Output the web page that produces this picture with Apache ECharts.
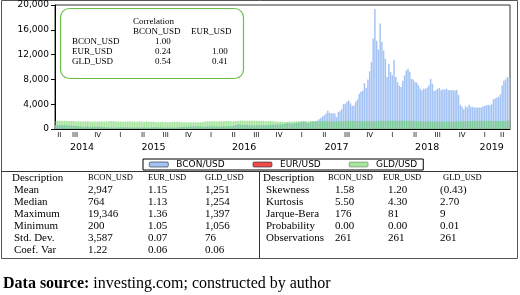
<!DOCTYPE html>
<html>
<head>
<meta charset="utf-8">
<script src="https://cdn.jsdelivr.net/npm/echarts@6/dist/echarts.min.js"></script>
<style>
  html, body { margin: 0; padding: 0; background: #fff; }
  #chart { width: 520px; height: 295px; }
</style>
</head>
<body>
<div id="chart"></div>
<script>
// weekly observations, first week below
const startDate = '2014-06-01';

// BCON/USD weekly
const bconUsd = [
  590, 600, 640, 635, 620, 625, 595, 590, 570, 490, 510, 480, 480, 475, 400, 375, 320, 390, 385, 355, 325, 365, 385, 370, 375, 375, 350, 325, 315, 265, 270,
  210, 250, 225, 220, 235, 245, 260, 275, 285, 265, 245, 260, 235, 225, 220, 240, 240, 235, 240, 230, 225, 235, 245, 250, 270, 310, 275, 290, 280, 265, 255, 225, 230, 240, 230, 230, 235, 240, 245, 270, 285, 325, 375, 320, 325, 360, 390, 435, 440, 420, 430, 450,
  380, 400, 375, 375, 400, 435, 435, 400, 415, 410, 415, 420, 420, 430, 460, 450, 455, 455, 445, 530, 575, 685, 765, 630, 660, 650, 680, 655, 625, 590, 570, 580, 575, 610, 605, 610, 605, 610, 615, 640, 655, 700, 710, 705, 730, 730, 765, 775, 790, 895, 1015, 910,
  820, 920, 920, 1020, 1000, 1050, 1180, 1270, 1230, 970, 970, 1100, 1180, 1180, 1250, 1350, 1590, 1780, 2050, 2200, 2520, 2950, 2600, 2500, 2550, 2500, 1930, 2750, 2870, 3230, 4060, 4090, 4380, 4600, 4120, 3700, 3780, 4400, 4800, 5700, 6000, 6150, 7400, 6600, 8000, 9300, 10770, 14600, 19346, 14240, 12800, 17000, 14080,
  12640, 11300, 8400, 10500, 9200, 8640, 11150, 8370, 7570, 7000, 6770, 7800, 8640, 9440, 9700, 9200, 8100, 8000, 7570, 7500, 7040, 6500, 6240, 6500, 6500, 6700, 7040, 8100, 7300, 6130, 6300, 6500, 6600, 6240, 6400, 6350, 6500, 6300, 6250, 6300, 6250, 6200, 6300, 5500, 3900, 3570, 3200, 3680, 3470, 3900, 3570, 3570,
  3470, 3470, 3470, 3450, 3470, 3680, 3700, 3840, 3900, 3840, 4000, 4800, 4900, 5100, 5200, 5600, 7000, 7800, 8000, 8370, 8300
];

// EUR/USD weekly
const eurUsd = [
  1.36, 1.36, 1.36, 1.36, 1.35, 1.35, 1.34, 1.34, 1.34, 1.33, 1.32, 1.31, 1.29, 1.29, 1.28, 1.27, 1.27, 1.27, 1.27, 1.25, 1.25, 1.25, 1.25, 1.25, 1.24, 1.23, 1.23, 1.22, 1.21, 1.19, 1.18,
  1.16, 1.13, 1.13, 1.13, 1.14, 1.14, 1.12, 1.08, 1.05, 1.08, 1.09, 1.10, 1.06, 1.08, 1.09, 1.12, 1.14, 1.12, 1.10, 1.11, 1.12, 1.13, 1.12, 1.11, 1.10, 1.09, 1.10, 1.10, 1.10, 1.10, 1.14, 1.13, 1.12, 1.12, 1.13, 1.12, 1.12, 1.13, 1.14, 1.10, 1.10, 1.07, 1.07, 1.06, 1.06, 1.09, 1.10, 1.09, 1.10, 1.09, 1.09, 1.09,
  1.09, 1.08, 1.09, 1.12, 1.13, 1.11, 1.10, 1.10, 1.11, 1.12, 1.12, 1.14, 1.14, 1.13, 1.13, 1.14, 1.14, 1.14, 1.12, 1.12, 1.12, 1.13, 1.13, 1.11, 1.14, 1.11, 1.10, 1.10, 1.12, 1.12, 1.13, 1.12, 1.13, 1.12, 1.12, 1.12, 1.12, 1.10, 1.10, 1.09, 1.09, 1.10, 1.10, 1.08, 1.07, 1.06, 1.06, 1.06, 1.05, 1.05, 1.05, 1.06,
  1.06, 1.07, 1.08, 1.08, 1.07, 1.06, 1.06, 1.06, 1.07, 1.08, 1.08, 1.07, 1.06, 1.06, 1.07, 1.09, 1.10, 1.09, 1.12, 1.12, 1.13, 1.12, 1.12, 1.12, 1.14, 1.14, 1.15, 1.17, 1.17, 1.18, 1.17, 1.18, 1.19, 1.19, 1.19, 1.19, 1.18, 1.17, 1.18, 1.18, 1.17, 1.17, 1.16, 1.17, 1.17, 1.19, 1.19, 1.18, 1.18, 1.19, 1.20, 1.20, 1.22,
  1.24, 1.25, 1.23, 1.23, 1.25, 1.24, 1.23, 1.23, 1.23, 1.23, 1.23, 1.23, 1.23, 1.21, 1.19, 1.19, 1.18, 1.17, 1.17, 1.18, 1.16, 1.16, 1.17, 1.17, 1.17, 1.17, 1.17, 1.17, 1.16, 1.14, 1.14, 1.16, 1.16, 1.17, 1.16, 1.17, 1.16, 1.15, 1.15, 1.15, 1.14, 1.13, 1.13, 1.14, 1.13, 1.14, 1.14, 1.14, 1.13, 1.14, 1.15, 1.14,
  1.14, 1.14, 1.13, 1.14, 1.13, 1.13, 1.13, 1.13, 1.13, 1.12, 1.13, 1.12, 1.13, 1.12, 1.12, 1.12, 1.12, 1.12, 1.12, 1.13, 1.13
];

// GLD/USD weekly
const gldUsd = [
  1275, 1317, 1320, 1337, 1310, 1307, 1293, 1305, 1310, 1295, 1280, 1268, 1250, 1227, 1215, 1215, 1192, 1222, 1238, 1230, 1170, 1168, 1187, 1196, 1183, 1205, 1222, 1196, 1195, 1205, 1222,
  1279, 1294, 1278, 1233, 1228, 1204, 1212, 1166, 1153, 1184, 1199, 1205, 1204, 1203, 1178, 1188, 1225, 1225, 1204, 1189, 1180, 1200, 1174, 1168, 1162, 1157, 1131, 1095, 1093, 1113, 1160, 1136, 1122, 1103, 1106, 1139, 1114, 1137, 1156, 1163, 1141, 1087, 1081, 1077, 1056, 1061, 1075, 1065, 1075, 1061, 1097, 1090,
  1097, 1112, 1157, 1239, 1230, 1222, 1270, 1258, 1251, 1218, 1222, 1243, 1235, 1230, 1291, 1290, 1272, 1254, 1214, 1244, 1275, 1298, 1315, 1340, 1366, 1328, 1323, 1350, 1335, 1340, 1341, 1321, 1327, 1328, 1310, 1337, 1316, 1257, 1252, 1266, 1275, 1304, 1226, 1207, 1183, 1176, 1160, 1134, 1133, 1146, 1172, 1196,
  1205, 1190, 1220, 1234, 1236, 1257, 1234, 1201, 1229, 1244, 1249, 1254, 1287, 1284, 1268, 1228, 1228, 1254, 1266, 1280, 1271, 1254, 1256, 1241, 1209, 1228, 1254, 1269, 1257, 1290, 1285, 1291, 1325, 1347, 1320, 1297, 1280, 1274, 1304, 1280, 1267, 1269, 1275, 1294, 1287, 1280, 1248, 1256, 1265, 1279, 1303, 1334, 1331,
  1348, 1333, 1315, 1347, 1329, 1322, 1323, 1313, 1347, 1325, 1333, 1346, 1337, 1323, 1315, 1318, 1291, 1302, 1298, 1303, 1279, 1270, 1254, 1241, 1241, 1232, 1223, 1213, 1219, 1184, 1206, 1200, 1196, 1194, 1200, 1196, 1204, 1222, 1228, 1233, 1233, 1210, 1222, 1223, 1222, 1248, 1238, 1256, 1279, 1285, 1287, 1282,
  1298, 1318, 1314, 1322, 1329, 1299, 1299, 1302, 1313, 1298, 1290, 1291, 1276, 1286, 1281, 1286, 1275, 1284, 1305, 1340, 1397
];

const seriesNames = ['BCON/USD', 'EUR/USD', 'GLD/USD'];
const yMax = 20000;
const yStep = 4000;

// correlation box
const corrHeaders = ['BCON_USD', 'EUR_USD'];
const corrNames = ['BCON_USD', 'EUR_USD', 'GLD_USD'];
const corrRows = [['1.00', ''], ['0.24', '1.00'], ['0.54', '0.41']];

// descriptive statistics table
const statHeaders = ['Description', 'BCON_USD', 'EUR_USD', 'GLD_USD'];
const statsLeft = [
  ['Mean', '2,947', '1.15', '1,251'],
  ['Median', '764', '1.13', '1,254'],
  ['Maximum', '19,346', '1.36', '1,397'],
  ['Minimum', '200', '1.05', '1,056'],
  ['Std. Dev.', '3,587', '0.07', '76'],
  ['Coef. Var', '1.22', '0.06', '0.06']
];
const statsRight = [
  ['Skewness', '1.58', '1.20', '(0.43)'],
  ['Kurtosis', '5.50', '4.30', '2.70'],
  ['Jarque-Bera', '176', '81', '9'],
  ['Probability', '0.00', '0.00', '0.01'],
  ['Observations', '261', '261', '261']
];

if (bconUsd.length !== 261 || eurUsd.length !== 261 || gldUsd.length !== 261) {
  throw new Error('lengths ' + bconUsd.length + ' ' + eurUsd.length + ' ' + gldUsd.length);
}

const weeks = bconUsd.map((v, i) =>
  new Date(Date.parse(startDate) + i * 7 * 86400000).toISOString().slice(0, 10));

const roman = ['I', 'II', 'III', 'IV'];
// label each quarter / year in the middle of its weeks
function blockCenters(keyOf) {
  const blocks = {};
  weeks.forEach((w, i) => {
    const k = keyOf(w);
    (blocks[k] = blocks[k] || []).push(i);
  });
  const out = {};
  Object.keys(blocks).forEach(k => {
    const b = blocks[k];
    out[Math.floor((b[0] + b[b.length - 1]) / 2)] = k;
  });
  return out;
}
const quarterAt = blockCenters(w => w.slice(0, 4) + '-' + roman[Math.floor((+w.slice(5, 7) - 1) / 3)]);
const yearAt = blockCenters(w => w.slice(0, 4));
const monthStart = weeks.map(w => +w.slice(8, 10) <= 7);

const serif = 'Liberation Serif';
const sans = 'DejaVu Sans';

const graphic = [];
// outer frame and table rules
graphic.push({ type: 'rect', shape: { x: 1.5, y: 0.5, width: 516, height: 258 }, style: { fill: 'none', stroke: '#555', lineWidth: 1 }, silent: true });
graphic.push({ type: 'line', shape: { x1: 1.5, y1: 171.5, x2: 517.5, y2: 171.5 }, style: { stroke: '#333', lineWidth: 1 } });
graphic.push({ type: 'line', shape: { x1: 259.5, y1: 171.5, x2: 259.5, y2: 258.5 }, style: { stroke: '#333', lineWidth: 1 } });

// correlation box
graphic.push({ type: 'rect', z: 10, shape: { x: 60.5, y: 8.5, width: 183, height: 70, r: 9 }, style: { fill: '#fff', stroke: '#6cbf4c', lineWidth: 1.2 } });
function txt(text, x, y, size, family, extra) {
  graphic.push({
    type: 'text', z: 11,
    style: Object.assign({ text: text, x: x, y: y, fill: '#000', fontSize: size, fontFamily: family, verticalAlign: 'middle', align: 'left' }, extra || {})
  });
}
txt('Correlation', 133, 22, 9, serif);
txt(corrHeaders[0], 133, 32, 9, serif);
txt(corrHeaders[1], 191, 32, 9, serif);
corrNames.forEach((n, r) => {
  txt(n, 72, 42 + r * 10, 9, serif);
  txt(corrRows[r][0], 155, 42 + r * 10, 9, serif);
  txt(corrRows[r][1], 212, 42 + r * 10, 9, serif);
});

// statistics tables
const colL = [12, 88, 148, 205];
const colR = [263, 328, 383, 443];
const valR = [266, 335, 388, 440];
statHeaders.forEach((h, c) => {
  txt(h, colL[c], 178, c === 0 ? 11 : 8.5, serif);
  txt(h, colR[c], 178, c === 0 ? 11 : 8.5, serif);
});
statsLeft.forEach((row, r) => {
  row.forEach((cell, c) => txt(cell, c === 0 ? 14 : colL[c], 190 + r * 12, 11, serif));
});
statsRight.forEach((row, r) => {
  row.forEach((cell, c) => txt(cell, valR[c], 190 + r * 12, 11, serif));
});

// source line
graphic.push({
  type: 'text',
  style: {
    text: '{b|Data source:} investing.com; constructed by author',
    x: 3, y: 284, verticalAlign: 'middle', fill: '#000',
    fontSize: 16, fontFamily: serif,
    rich: { b: { fontWeight: 'bold', fontSize: 16, fontFamily: serif } }
  }
});

const chart = echarts.init(document.getElementById('chart'));
chart.setOption({
  animation: false,
  textStyle: { fontFamily: sans },
  grid: { left: 55, right: 10, top: 5, height: 124, show: true, borderColor: '#333', borderWidth: 1 },
  legend: {
    data: seriesNames,
    left: 143, top: 159,
    padding: [1, 6],
    itemWidth: 19, itemHeight: 5, itemGap: 28,
    borderColor: '#000', borderWidth: 1, borderRadius: 0,
    itemStyle: { borderColor: '#222', borderWidth: 0.6 },
    textStyle: { fontSize: 9, color: '#000', fontFamily: sans, padding: [0, 0, 0, 3] }
  },
  xAxis: [
    {
      type: 'category', data: weeks,
      axisLine: { lineStyle: { color: '#000' } },
      axisTick: { interval: (i) => monthStart[i], length: 3, lineStyle: { color: '#000' } },
      axisLabel: {
        interval: (i) => quarterAt[i] !== undefined,
        formatter: (v, i) => (quarterAt[i] || '').split('-')[1] || '',
        fontSize: 7, color: '#000', margin: 3
      }
    },
    {
      type: 'category', data: weeks, position: 'bottom', offset: 11,
      axisLine: { show: false }, axisTick: { show: false },
      axisLabel: {
        interval: (i) => yearAt[i] !== undefined,
        formatter: (v, i) => yearAt[i] || '',
        fontSize: 9.5, color: '#000', margin: 3
      }
    }
  ],
  yAxis: {
    type: 'value', min: 0, max: yMax, interval: yStep,
    axisLine: { show: true, lineStyle: { color: '#000' } },
    axisTick: { show: true, length: 4, lineStyle: { color: '#000' } },
    splitLine: { show: false },
    axisLabel: { formatter: v => v.toLocaleString('en-US'), fontSize: 9, color: '#000', margin: 6 }
  },
  series: [
    { name: seriesNames[0], type: 'bar', data: bconUsd, barGap: '-100%', barCategoryGap: '15%', itemStyle: { color: '#a3c3f5' } },
    { name: seriesNames[1], type: 'bar', data: eurUsd, barGap: '-100%', barCategoryGap: '15%', itemStyle: { color: '#f04a4a' } },
    { name: seriesNames[2], type: 'bar', data: gldUsd, barGap: '-100%', barCategoryGap: '15%', itemStyle: { color: '#5fcf4f', opacity: 0.55 } }
  ],
  graphic: graphic
});
</script>
</body>
</html>
